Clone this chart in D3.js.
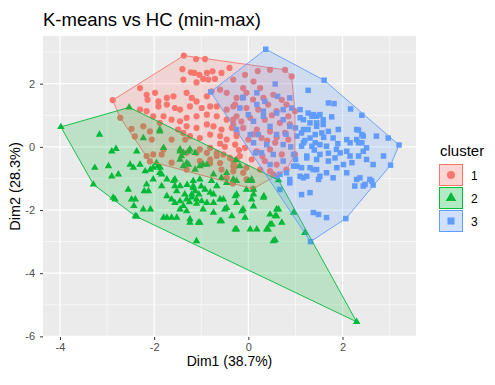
<!DOCTYPE html>
<html><head><meta charset="utf-8">
<script src="https://cdn.jsdelivr.net/npm/d3@7"></script>
<style>body{margin:0;background:#fff} svg{display:block} text{font-family:"Liberation Sans",Arial,sans-serif}</style>
</head><body><svg id="c" width="495" height="385"></svg>
<script>
const titleText = "K-means vs HC (min-max)";
const xLabel = "Dim1 (38.7%)";
const yLabel = "Dim2 (28.3%)";
const xTicks = [-4, -2, 0, 2];
const yTicks = [2, 0, -2, -4, -6];
const xMinor = [-3, -1, 1, 3];
const yMinor = [3, 1, -1, -3, -5];
const clusterNames = ["1", "2", "3"];
const colors = ["#F8766D", "#00BA38", "#619CFF"];

const cluster1 = [
[-2.88,1.48],[-1.37,2.89],[-1.11,2.78],[-0.92,2.78],[-1.40,2.46],[-1.22,2.36],[-1.15,2.34],[-1.04,2.28],[-0.88,2.34],[-0.76,2.39],[-0.57,2.34],[-1.38,2.13],[-1.10,2.04],[-0.96,2.15],[-0.85,2.13],[-0.71,2.15],[-2.30,1.86],[-2.16,1.65],[-1.98,1.71],[-2.14,1.49],[-1.91,1.44],[-1.73,1.55],[-1.59,1.60],[-1.31,1.71],[-1.20,1.55],[-1.10,1.44],[-0.88,1.60],[-0.78,1.76],[-0.60,1.81],[-0.46,1.71],[-1.91,1.28],[-1.73,1.34],[-1.56,1.23],[-1.45,1.18],[-1.24,1.28],[-0.99,1.23],[-0.81,1.28],[-0.67,1.28],[-0.46,1.18],[-0.32,1.28],[-2.30,1.18],[-2.16,1.13],[-2.02,0.97],[-1.80,0.97],[-1.63,0.86],[-1.45,0.81],[-1.31,0.92],[-1.10,0.97],[-0.88,1.02],[-0.67,0.97],[-0.46,0.86],[-0.32,0.86],[-1.49,0.55],[-1.31,0.65],[-1.10,0.60],[-0.88,0.71],[-0.74,0.65],[-0.57,0.55],[-0.35,0.60],[-0.81,0.39],[-0.60,0.34],[-0.46,0.23],[-0.25,0.44],[-1.03,0.28],[-1.24,0.34],
[-2.72,0.92],[-2.48,0.57],[-2.23,0.65],[-2.09,0.49],[-1.88,0.76],[-1.63,0.23],[-1.38,0.44],[-1.34,0.23],[-2.16,-0.29],[-2.02,-0.24],[-1.80,-0.08],[-1.03,-0.08],[-0.88,-0.19],[-0.67,-0.29],[-0.53,-0.24],[-0.60,-0.51],[-0.81,-0.40],[-0.32,-0.61],[-0.25,-0.40],[-2.05,0.23],[-2.41,0.33],[-2.09,-0.46],[-1.31,-0.72],[-0.46,-0.98],[-0.33,-1.16],[0.10,-1.33],
[-1.84,-0.24],[-1.31,-0.19],[-1.10,-0.19],[-1.03,-0.45],[-0.81,-0.03],[-0.67,-0.19],[-0.39,-0.35],[-0.28,-0.61],[-0.11,-0.82],[-0.04,-1.03],[-0.81,-0.51],[-0.57,-0.72],[-0.32,-0.77],[-1.63,-0.50],
[0.46,2.44],[0.78,2.44],[0.92,2.23],[-0.07,2.28],[0.11,2.07],[-0.32,2.13],[-0.11,1.86],[0.25,1.86],[-0.04,1.71],[0.32,1.55],[-0.25,1.55],[0.53,1.65],[0.71,1.49],[0.81,1.34],[0.42,1.34],[-0.28,1.34],[-0.04,1.23],[0.21,1.18],[0.60,1.13],[0.85,0.97],[-0.25,0.97],[0.04,0.92],[0.35,0.86],[0.67,0.76],[0.88,0.71],[-0.32,0.71],[-0.11,0.60],[0.18,0.55],[0.46,0.49],[0.78,0.44],[-0.25,0.34],[0.00,0.23],[0.28,0.28],[0.57,0.13],[0.85,0.23],[-0.28,0.07],[-0.07,-0.03],[0.18,-0.14],[0.46,-0.08],[0.71,-0.24],[-0.18,-0.29],[0.07,-0.40],[0.35,-0.45],[0.60,-0.56],[0.25,-0.72],[-0.04,-0.66],[0.46,-0.77],[-0.32,-0.45],[0.99,1.13],[0.99,-0.24],[0.81,-0.72],[0.53,-0.87],
[-0.40,2.50],[0.20,2.40],[-0.50,0.00],[-0.20,-0.10],[0.10,0.40],[0.40,0.20],[-0.60,0.10],[0.30,-0.30],[0.60,0.30],[-0.15,0.80],[0.50,1.00],[0.10,1.50]
];

const cluster2 = [
[-3.98,0.63],[-2.53,1.25],[-3.16,0.39],[-2.90,-0.14],[-2.81,-0.06],[-3.26,-0.66],[-2.97,-0.61],[-2.90,-0.93],[-2.76,-0.87],[-2.37,-0.14],[-2.23,0.28],[-1.88,0.55],[-1.80,-0.03],[-2.51,-0.56],[-2.44,-0.66],[-2.30,-0.56],[-2.02,-0.66],[-1.92,-0.61],[-1.88,-0.82],[-1.73,-1.03],[-1.59,-1.08],[-1.45,-0.08],[-1.38,-0.19],[-1.45,-0.40],[-1.24,-0.08],[-1.13,-0.19],[-0.96,-0.56],[-1.03,-0.61],[-0.74,-0.87],[-0.57,-0.98],[-1.31,-0.51],[-1.38,-0.61],[-0.46,-0.82],[-0.32,-1.03],[-3.29,-1.19],
[-2.87,-1.61],[-2.40,-2.19],[-2.55,-1.35],[-2.48,-1.66],[-2.40,-1.66],[-2.12,-1.40],[-2.23,-1.98],[-2.08,-1.98],[-2.43,-1.87],[-2.19,-0.77],[-2.08,-0.72],[-2.02,-1.03],[-1.87,-0.66],[-1.84,-0.87],[-1.84,-1.24],[-1.56,-1.03],[-1.56,-1.24],[-1.52,-1.40],[-1.45,-1.24],[-1.73,-1.56],[-1.63,-1.66],[-1.56,-1.77],[-1.45,-1.72],[-1.38,-1.87],[-1.45,-1.98],[-1.73,-2.24],[-1.52,-2.24],[-1.31,-2.03],[-1.24,-2.29],[-1.06,-2.40],[-1.17,-1.24],[-1.13,-1.40],[-1.20,-1.50],[-1.10,-1.66],[-0.99,-1.72],[-0.92,-1.35],[-0.81,-1.45],[-0.88,-1.77],[-0.74,-1.77],[-0.96,-1.98],[-0.74,-2.08],[-0.53,-1.66],[-0.60,-2.35],[-0.46,-1.93],[-0.28,-1.56],[-0.25,-1.77],[-0.11,-1.98],[-0.07,-2.24],[-0.28,-2.61],[0.04,-2.61],[0.18,-2.61],[-0.04,-1.35],[0.07,-1.66],[0.11,-1.35],[-0.67,-1.24],[-0.46,-1.14],[-0.25,-1.08],[0.00,-1.08],[-0.78,-1.08],[-1.95,-0.51],[-1.13,-0.72],[-0.88,-0.56],[-1.27,-0.56],[-2.16,-1.19],[-1.17,-1.08],[-1.03,-1.03],[-1.31,-1.66],
[-2.83,-1.66],[-2.37,-2.21],[-2.21,-1.40],[-1.80,-2.24],[-1.63,-2.24],[-1.10,-2.98],[-1.24,-2.40],[-1.03,-2.40],[-0.57,-2.35],[-0.25,-2.61],[0.42,-2.61],[0.46,-2.45],[0.53,-2.98],[0.71,-2.40],[0.60,-2.19],[0.46,-2.14],[0.96,-2.08],[0.64,-1.98],[1.20,-2.72],[2.30,-5.54],[-0.14,-2.03],[0.11,-1.88],[-0.35,-2.19],[-0.50,-1.98],[-0.60,-1.66],[-0.74,-1.50],[-0.25,-1.50],[0.11,-1.50],[0.32,-1.61],
[0.64,-1.05],[0.07,-1.08],[0.33,-1.56],[0.60,-1.98],[0.57,-2.19],[0.50,-2.45],[0.39,-2.61],[0.57,-2.95],
[-1.17,-1.30],[-1.20,-1.60],[-1.10,-1.80],[-1.25,-1.75],[-1.35,-1.50],[-1.05,-1.50],[-1.30,-1.20],[-1.00,-1.25],
[-1.88,0.49],[-1.45,-0.14],[-1.27,-0.14],[-1.42,-0.29],[-0.26,-0.42],[-0.18,-0.61],[0.07,-1.03]
];

const cluster3 = [
[0.37,3.09],[-0.80,1.74],[1.61,2.11],[3.20,0.06],[3.02,-0.58],[2.07,-2.27],[1.32,-3.00],
[0.57,1.99],[1.27,1.79],[0.18,1.71],[-0.12,1.55],[0.62,1.60],[0.88,1.55],[1.70,1.39],[1.82,1.37],[2.17,1.20],[2.41,1.00],[1.10,1.18],[1.27,1.07],[1.45,0.97],[1.59,0.86],[1.77,0.95],[0.32,1.13],[0.74,1.18],[0.92,1.23],[2.72,0.34],[2.97,0.28],[2.87,-0.29],[2.65,-0.56],[2.30,0.55],[2.44,0.34],[2.34,0.13],[2.09,0.23],[1.95,-0.19],[2.16,-0.29],[2.44,-0.14],[2.51,-0.40],[2.30,-1.03],[2.44,-1.24],[2.62,-1.08],[2.65,-1.21],[2.26,-1.24],[2.09,-0.82],[1.88,-0.66],[1.66,-0.82],[1.45,-0.72],[1.31,-1.45],[1.13,-1.51],[1.38,-2.08],[1.49,-2.14],[1.66,-2.24],[0.67,-1.35],[0.88,-1.14],[1.10,-0.93],[1.24,-0.93],[0.60,-0.93],[0.81,-0.82],[0.96,-0.61],
[1.38,1.02],[1.52,1.02],[1.17,0.86],[1.31,0.76],[1.45,0.76],[1.59,0.71],[1.91,0.55],[2.34,0.53],[2.41,0.39],[1.13,0.44],[1.27,0.55],[1.42,0.39],[1.56,0.44],[1.70,0.49],[1.80,0.28],[2.16,0.13],[2.30,0.23],[2.41,0.13],[2.51,-0.03],[1.17,0.13],[1.35,0.02],[1.52,0.07],[1.66,0.02],[1.87,-0.08],[2.09,-0.14],[2.34,-0.29],[1.24,-0.29],[1.45,-0.40],[1.70,-0.45],[1.84,-0.35],[2.02,-0.56],[1.13,-0.66],[1.38,-0.72],[1.52,-0.93],[1.80,-0.98],[2.37,-0.98],[2.58,-1.03],[2.48,-1.19],
[-0.11,1.57],[0.18,1.34],[0.35,1.44],[0.60,1.07],[0.32,0.97],[0.74,0.86],[1.10,0.92],[1.35,0.97],[0.11,0.81],[0.46,0.65],[0.88,0.65],[1.17,0.55],[1.45,0.65],[0.21,0.39],[0.60,0.39],[1.03,0.34],[1.31,0.28],[0.11,0.13],[0.39,0.07],[0.74,0.07],[1.13,0.02],[1.42,0.13],[0.15,-0.19],[0.28,-0.19],[0.53,-0.24],[0.96,-0.24],[1.24,-0.35],[1.52,-0.24],[0.46,-0.56],[0.74,-0.45],[1.03,-0.61],[1.31,-0.66],[0.67,-0.87],[0.88,-1.03],[1.17,-0.98],[1.49,-1.03],[-0.25,0.55],[0.00,1.02],[-0.18,1.23],[0.04,0.39],
[1.00,0.60],[1.20,0.20],[1.60,0.30],[1.90,0.10],[1.40,-0.10],[0.90,0.00],[1.70,-0.20],[2.20,-0.50],[1.00,-0.40],[0.80,0.40]
];

const clusters = [cluster1, cluster2, cluster3];
const symbols = [d3.symbolCircle, d3.symbolTriangle, d3.symbolSquare];
const symSizes = [30, 24, 30];

const svg = d3.select("#c");
const L = 43, R = 416, T = 36, B = 337;
const x = d3.scaleLinear().domain([-4.36, 3.56]).range([L, R]);
const y = d3.scaleLinear().domain([-6.02, 3.51]).range([B, T]);

// panel
svg.append("rect").attr("x", L).attr("y", T).attr("width", R - L).attr("height", B - T).attr("fill", "#EBEBEB");
const grid = svg.append("g");
grid.selectAll(".vx").data(xMinor).join("line").attr("x1", d => x(d)).attr("x2", d => x(d)).attr("y1", T).attr("y2", B).attr("stroke", "#fff").attr("stroke-width", 0.6);
grid.selectAll(".hy").data(yMinor).join("line").attr("y1", d => y(d)).attr("y2", d => y(d)).attr("x1", L).attr("x2", R).attr("stroke", "#fff").attr("stroke-width", 0.6);
grid.selectAll(".vX").data(xTicks).join("line").attr("x1", d => x(d)).attr("x2", d => x(d)).attr("y1", T).attr("y2", B).attr("stroke", "#fff").attr("stroke-width", 1.2);
grid.selectAll(".hY").data(yTicks).join("line").attr("y1", d => y(d)).attr("y2", d => y(d)).attr("x1", L).attr("x2", R).attr("stroke", "#fff").attr("stroke-width", 1.2);

// points
clusters.forEach((pts, i) => {
  svg.append("g").selectAll("path").data(pts).join("path")
    .attr("d", d3.symbol().type(symbols[i]).size(symSizes[i]))
    .attr("transform", d => `translate(${x(d[0])},${y(d[1])})`)
    .attr("fill", colors[i]);
});

// hulls
clusters.forEach((pts, i) => {
  const hull = d3.polygonHull(pts.map(d => [x(d[0]), y(d[1])]));
  svg.append("path").attr("d", "M" + hull.join("L") + "Z")
    .attr("fill", colors[i]).attr("fill-opacity", 0.2)
    .attr("stroke", colors[i]).attr("stroke-width", 0.9);
});

// axes
const xa = svg.append("g").attr("transform", `translate(0,${B})`)
  .call(d3.axisBottom(x).tickValues(xTicks).tickSize(3).tickPadding(3).tickFormat(d3.format("d")));
const ya = svg.append("g").attr("transform", `translate(${L},0)`)
  .call(d3.axisLeft(y).tickValues(yTicks).tickSize(3).tickPadding(5).tickFormat(d3.format("d")));
[xa, ya].forEach(a => {
  a.select(".domain").remove();
  a.selectAll(".tick line").attr("stroke", "#333").attr("stroke-width", 1);
  a.selectAll(".tick text").attr("fill", "#4D4D4D").attr("font-size", 11).attr("font-family", '"Liberation Sans",Arial,sans-serif');
});
xa.selectAll(".tick text").text(d => d < 0 ? "-" + Math.abs(d) : d);
ya.selectAll(".tick text").text(d => d < 0 ? "-" + Math.abs(d) : d);

// labels
svg.append("text").attr("x", L).attr("y", 26).attr("font-size", 18.5).attr("fill", "#000").text(titleText);
svg.append("text").attr("x", (L + R) / 2).attr("y", 365.5).attr("text-anchor", "middle").attr("font-size", 14).attr("fill", "#000").text(xLabel);
svg.append("text").attr("transform", `translate(20,${(T + B) / 2}) rotate(-90)`).attr("text-anchor", "middle").attr("font-size", 14.5).attr("fill", "#000").text(yLabel);

// legend
const lg = svg.append("g");
lg.append("text").attr("x", 440).attr("y", 156).attr("font-size", 15).attr("fill", "#000").text("cluster");
clusterNames.forEach((nm, i) => {
  const ky = 164.5 + i * 23;
  lg.append("rect").attr("x", 439.5).attr("y", ky).attr("width", 23).attr("height", 21)
    .attr("fill", colors[i]).attr("fill-opacity", 0.3).attr("stroke", colors[i]).attr("stroke-width", 1);
  lg.append("path").attr("d", d3.symbol().type(symbols[i]).size(i === 1 ? 48 : 50)())
    .attr("transform", `translate(451,${ky + 10.5})`).attr("fill", colors[i]);
  lg.append("text").attr("x", 471).attr("y", ky + 15).attr("font-size", 12).attr("fill", "#000").text(nm);
});
</script></body></html>
